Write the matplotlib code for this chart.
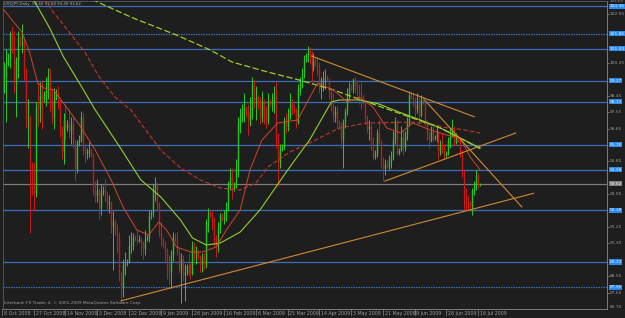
import matplotlib
matplotlib.use("Agg")
import matplotlib.pyplot as plt
import matplotlib.transforms as mtransforms
import numpy as np

# ---------------- data ----------------
opens = [102.5, 99.5, 99.5, 100.2, 100.6, 101.8, 101.6, 99.2, 100.4, 101.6, 101.3, 101.4,
         99.9, 97.2, 97.2, 94.6, 93.4, 93.1, 97.9, 97.8, 98.5, 98.3, 98.6, 98.9,
         99.6, 98.1, 97.3, 98.3, 98.6, 98.2, 96.5, 95.4, 97.2, 96.7, 96.9, 96.5,
         96.9, 95.8, 94.4, 95.9, 96.1, 97.3, 95.5, 95.3, 95.4, 95.5, 95.2, 93.2,
         93.0, 93.3, 92.3, 93.2, 93.3, 93.0, 92.5, 92.6, 91.3, 91.6, 91.0, 90.7,
         88.5, 87.9, 89.2, 89.3, 89.4, 90.2, 90.3, 90.7, 90.6, 90.5, 90.6, 90.3,
         90.1, 90.6, 90.7, 91.9, 92.0, 93.3, 93.6, 92.5, 91.0, 90.6, 90.2, 89.9,
         89.0, 88.8, 89.7, 90.7, 90.6, 89.9, 88.9, 89.5, 88.6, 88.8, 89.1, 89.0,
         88.7, 90.2, 89.8, 89.9, 89.6, 89.2, 89.5, 89.2, 91.5, 92.0, 91.9, 91.5,
         90.5, 90.2, 91.2, 91.9, 91.7, 91.8, 92.3, 93.6, 94.0, 93.4, 93.5, 94.5,
         97.0, 97.4, 97.6, 97.8, 97.4, 97.1, 97.6, 99.1, 98.2, 98.4, 97.9, 97.3,
         98.1, 97.6, 97.1, 98.2, 98.0, 98.1, 98.4, 96.0, 94.8, 95.5, 95.7, 97.1,
         96.8, 97.4, 98.0, 97.8, 97.6, 97.0, 98.9, 99.3, 99.7, 100.4, 100.7, 100.9,
         100.6, 100.0, 100.4, 100.2, 99.9, 98.9, 99.2, 99.4, 99.5, 99.3, 98.7, 97.9,
         97.4, 97.6, 97.0, 96.8, 96.0, 97.0, 97.6, 98.5, 98.9, 98.8, 99.3, 99.0,
         98.7, 98.6, 98.5, 98.1, 97.2, 96.6, 96.8, 95.8, 95.1, 95.3, 96.4, 95.9,
         94.8, 94.5, 94.7, 94.6, 94.9, 95.1, 96.1, 97.0, 95.3, 95.5, 96.2, 95.6,
         96.4, 97.0, 98.5, 98.4, 98.2, 97.7, 98.0, 97.4, 98.3, 98.1, 97.0, 96.3,
         96.0, 96.5, 96.1, 96.2, 96.4, 95.4, 95.7, 95.6, 95.2, 95.3, 96.0, 96.4,
         96.6, 95.9, 96.2, 96.0, 95.3, 94.2, 92.8, 92.6, 92.5, 92.4, 93.2, 93.6,
         94.1, 93.60]
highs = [102.8, 100.3, 101.0, 100.8, 102.0, 102.3, 102.0, 100.6, 102.0, 101.8, 102.4, 101.7,
         100.0, 98.3, 97.4, 94.8, 94.8, 98.1, 99.2, 99.2, 99.3, 98.7, 99.5, 100.0,
         100.0, 98.9, 98.9, 98.8, 99.0, 98.3, 96.8, 97.5, 98.0, 97.1, 97.7, 97.3,
         97.4, 96.0, 96.0, 96.3, 97.6, 97.5, 95.8, 95.6, 95.9, 95.6, 95.3, 93.8,
         93.9, 93.4, 93.6, 93.5, 93.9, 93.2, 93.0, 92.7, 92.1, 91.7, 91.4, 91.0,
         88.8, 89.5, 89.9, 89.5, 90.8, 91.0, 90.9, 90.8, 91.1, 90.8, 90.7, 90.5,
         91.1, 90.8, 92.2, 92.2, 93.6, 94.0, 93.7, 92.6, 91.5, 90.7, 90.5, 90.1,
         89.7, 90.0, 91.0, 90.9, 91.0, 90.1, 89.8, 89.7, 89.2, 89.2, 89.8, 89.3,
         90.5, 90.4, 90.2, 90.0, 89.7, 89.8, 89.8, 91.7, 92.3, 92.2, 92.1, 91.8,
         90.8, 91.5, 92.0, 92.0, 92.2, 92.6, 93.8, 94.5, 94.5, 93.7, 95.0, 97.3,
         97.8, 98.0, 98.6, 97.9, 98.0, 98.4, 99.5, 99.3, 99.0, 98.5, 98.4, 98.7,
         98.3, 97.9, 98.6, 98.3, 98.6, 99.0, 99.2, 96.4, 95.8, 95.8, 97.3, 97.5,
         97.8, 98.6, 98.3, 98.0, 97.8, 99.1, 99.5, 100.0, 100.7, 100.8, 101.2, 101.1,
         100.9, 100.8, 100.5, 100.6, 100.3, 99.5, 99.8, 99.9, 99.6, 99.4, 98.9, 98.6,
         97.9, 97.9, 97.1, 97.0, 97.2, 97.8, 98.9, 99.2, 99.1, 99.4, 99.5, 99.3,
         99.1, 99.2, 98.5, 98.2, 97.4, 97.1, 96.9, 96.2, 95.5, 96.6, 97.1, 96.0,
         95.1, 95.0, 94.9, 95.2, 95.4, 96.5, 97.3, 97.1, 95.6, 96.8, 96.5, 96.5,
         97.3, 98.7, 98.7, 98.6, 98.4, 98.6, 98.4, 98.5, 98.4, 98.2, 97.1, 96.5,
         96.8, 96.8, 96.3, 96.8, 96.5, 96.0, 96.4, 95.8, 95.4, 96.2, 96.7, 97.2,
         96.8, 96.4, 96.3, 96.1, 95.5, 94.4, 93.4, 93.0, 92.7, 93.4, 93.8, 94.4,
         94.2, 93.68]
lows = [98.4, 98.6, 97.0, 100.1, 100.0, 100.8, 98.6, 97.3, 99.4, 101.2, 100.8, 99.3,
        96.7, 95.6, 90.9, 93.0, 92.1, 92.9, 96.8, 97.0, 96.6, 98.1, 97.9, 98.3,
        97.6, 96.9, 96.6, 98.2, 97.7, 96.2, 95.0, 94.7, 96.0, 96.5, 96.2, 95.8,
        95.6, 93.8, 94.2, 95.7, 95.9, 95.2, 94.8, 95.0, 95.1, 95.1, 93.0, 92.6,
        92.6, 91.7, 91.9, 93.0, 92.6, 92.1, 92.0, 90.9, 88.9, 90.8, 89.8, 88.3,
        87.1, 87.4, 88.6, 89.1, 89.3, 89.8, 90.0, 90.5, 90.3, 90.4, 89.7, 89.5,
        89.7, 90.5, 90.4, 91.7, 91.8, 92.7, 92.2, 90.7, 90.2, 90.1, 89.4, 88.4,
        88.1, 87.9, 89.4, 90.4, 89.7, 88.7, 87.1, 88.3, 87.2, 88.6, 88.6, 88.4,
        88.6, 89.4, 89.2, 89.5, 88.8, 88.8, 88.9, 89.0, 91.0, 91.8, 91.1, 90.2,
        89.6, 89.9, 90.9, 91.6, 91.4, 91.6, 92.1, 93.3, 92.8, 93.2, 93.4, 94.0,
        96.4, 97.0, 97.0, 97.3, 96.3, 96.8, 97.2, 97.8, 97.1, 97.7, 96.9, 97.0,
        96.9, 96.7, 96.9, 97.9, 97.6, 97.5, 95.6, 93.5, 94.5, 95.4, 95.5, 96.4,
        96.5, 97.2, 97.4, 97.5, 96.7, 96.9, 98.5, 98.9, 99.4, 100.3, 100.3, 100.2,
        99.2, 99.8, 100.1, 99.6, 98.6, 98.3, 98.7, 98.8, 99.2, 98.3, 97.6, 97.0,
        97.0, 96.6, 96.6, 95.6, 94.5, 96.7, 97.4, 98.3, 98.7, 98.6, 98.6, 98.2,
        98.0, 97.7, 98.0, 96.9, 96.4, 96.0, 95.5, 94.9, 95.0, 95.1, 95.8, 94.5,
        93.8, 94.1, 94.5, 94.4, 94.5, 94.9, 95.8, 95.2, 95.2, 95.4, 95.2, 95.4,
        96.0, 96.8, 98.3, 97.9, 97.3, 97.5, 96.9, 97.3, 98.0, 96.8, 96.0, 95.6,
        95.9, 95.9, 96.0, 95.9, 95.0, 95.2, 95.3, 95.0, 95.1, 95.2, 95.6, 96.2,
        95.7, 95.8, 95.9, 95.1, 94.0, 92.2, 92.2, 92.1, 92.3, 91.9, 93.0, 93.3,
        93.4, 93.49]
closes = [99.5, 99.5, 100.2, 100.6, 101.8, 101.6, 99.2, 100.4, 101.6, 101.3, 101.4, 99.9,
          97.2, 97.2, 94.6, 93.4, 93.1, 97.9, 97.8, 98.5, 98.3, 98.6, 98.9, 99.6,
          98.1, 97.3, 98.3, 98.6, 98.2, 96.5, 95.4, 97.2, 96.7, 96.9, 96.5, 96.9,
          95.8, 94.4, 95.9, 96.1, 97.3, 95.5, 95.3, 95.4, 95.5, 95.2, 93.2, 93.0,
          93.3, 92.3, 93.2, 93.3, 93.0, 92.5, 92.6, 91.3, 91.6, 91.0, 90.7, 88.5,
          87.9, 89.2, 89.3, 89.4, 90.2, 90.3, 90.7, 90.6, 90.5, 90.6, 90.3, 90.1,
          90.6, 90.7, 91.9, 92.0, 93.3, 93.6, 92.5, 91.0, 90.6, 90.2, 89.9, 89.0,
          88.8, 89.7, 90.7, 90.6, 89.9, 88.9, 89.5, 88.6, 88.8, 89.1, 89.0, 88.7,
          90.2, 89.8, 89.9, 89.6, 89.2, 89.5, 89.2, 91.5, 92.0, 91.9, 91.5, 90.5,
          90.2, 91.2, 91.9, 91.7, 91.8, 92.3, 93.6, 94.0, 93.4, 93.5, 94.5, 97.0,
          97.4, 97.6, 97.8, 97.4, 97.1, 97.6, 99.1, 98.2, 98.4, 97.9, 97.3, 98.1,
          97.6, 97.1, 98.2, 98.0, 98.1, 98.4, 96.0, 94.8, 95.5, 95.7, 97.1, 96.8,
          97.4, 98.0, 97.8, 97.6, 97.0, 98.9, 99.3, 99.7, 100.4, 100.7, 100.9, 100.6,
          100.0, 100.4, 100.2, 99.9, 98.9, 99.2, 99.4, 99.5, 99.3, 98.7, 97.9, 97.4,
          97.6, 97.0, 96.8, 96.0, 97.0, 97.6, 98.5, 98.9, 98.8, 99.3, 99.0, 98.7,
          98.6, 98.5, 98.1, 97.2, 96.6, 96.8, 95.8, 95.1, 95.3, 96.4, 95.9, 94.8,
          94.5, 94.7, 94.6, 94.9, 95.1, 96.1, 97.0, 95.3, 95.5, 96.2, 95.6, 96.4,
          97.0, 98.5, 98.4, 98.2, 97.7, 98.0, 97.4, 98.3, 98.1, 97.0, 96.3, 96.0,
          96.5, 96.1, 96.2, 96.4, 95.4, 95.7, 95.6, 95.2, 95.3, 96.0, 96.4, 96.6,
          95.9, 96.2, 96.0, 95.3, 94.2, 92.8, 92.6, 92.5, 92.4, 93.2, 93.6, 94.1,
          93.60, 93.62]

# moving averages at sample bars
ma_fast_bars = [1, 5, 10, 14, 18, 21, 26, 31, 39, 47, 55, 61, 68, 74, 79, 83, 88, 95, 101, 108,
                113, 120, 125, 131, 139, 149, 159, 167, 174, 180, 187, 194, 201, 207, 216, 224,
                231, 236, 241]
ma_fast_vals = [103.16, 102.61, 101.95, 100.80, 99.15, 98.88, 98.77, 98.05, 96.85, 95.47, 93.83,
                92.35, 91.08, 90.81, 91.52, 91.08, 90.15, 89.88, 89.88, 90.15, 91.08, 92.18,
                94.38, 96.02, 96.96, 97.12, 99.15, 98.77, 98.11, 98.38, 97.83, 96.68, 96.41,
                96.96, 96.57, 96.30, 96.13, 95.09, 94.38]
ma_mid_bars = [12, 16, 24, 31, 39, 47, 59, 70, 80, 90, 96, 103, 110, 120, 130, 144, 155, 166,
               170, 180, 190, 200, 211, 221, 231, 241]
ma_mid_vals = [104.6, 103.7, 102.17, 100.58, 99.15, 97.67, 95.7, 93.83, 92.90, 91.63, 90.65,
               90.26, 90.37, 90.97, 92.18, 94.38, 96.02, 98.11, 98.22, 98.22, 98.0, 97.56,
               97.12, 96.68, 96.13, 95.58]
ma_slow_bars = [20, 25, 33, 42, 49, 57, 65, 80, 90, 100, 110, 120, 128, 134, 145, 155, 170,
                184, 192, 200, 207, 216, 224, 232, 241]
ma_slow_vals = [104.0, 103.16, 102.06, 100.80, 99.48, 98.38, 97.67, 95.47, 94.49, 93.83, 93.39,
                93.28, 93.66, 94.54, 95.36, 95.86, 96.68, 96.96, 96.96, 97.0, 97.0, 96.9, 96.7,
                96.6, 96.4]
ma_long_bars = [44, 48, 66, 88, 105, 116, 134, 150, 167, 184, 200, 221, 241]
ma_long_vals = [103.85, 103.6, 102.72, 101.78, 100.96, 100.30, 99.75, 99.31, 98.77, 98.11,
                97.50, 96.68, 95.55]

# hand-drawn trend lines: (bar0, price0, bar1, price1)
trend_lines = [(60, 87.2, 268, 93.1),
               (156, 100.63, 238, 97.3),
               (213, 98.22, 262, 92.35),
               (193, 93.77, 259, 96.41)]

# horizontal levels
level_prices = [103.36, 101.86, 101.03, 99.27, 98.12, 95.76, 94.38, 92.18, 89.33, 87.95]
level_dotted = [False, True, False, False, False, False, False, False, False, True]
current_price = 93.62

price_top, price_bottom = 103.65, 86.75
price_ticks = [102.95, 100.25, 98.45, 97.55, 96.65, 94.85, 93.05, 91.25, 90.35, 88.55, 87.65]

date_labels = ["8 Oct 2008", "27 Oct 2008", "14 Nov 2008", "3 Dec 2008", "22 Dec 2008",
               "9 Jan 2009", "28 Jan 2009", "16 Feb 2009", "6 Mar 2009", "25 Mar 2009",
               "14 Apr 2009", "3 May 2009", "21 May 2009", "9 Jun 2009", "28 Jun 2009",
               "16 Jul 2009"]
date_label_bars = [0, 16, 32, 48, 64, 80, 96, 112, 128, 144, 160, 176, 192, 208, 224, 240]

title_text = "USDJPY,Daily  93.60 93.68 93.49 93.62"
copyright_text = "Interbank FX Trader 4, \u00a9 2001-2009 MetaQuotes Software Corp."

# ---------------- style ----------------
BG = "#1e1e1e"
GREEN = "#22c722"
RED = "#c81818"
BLUE = "#3a70b8"
LABEL_BLUE = "#2b8cf0"
ORANGE = "#d08a30"
TXT = "#9a9a9a"

W, H = 625, 318
fig = plt.figure(figsize=(W / 100, H / 100), dpi=100)
fig.patch.set_facecolor(BG)
ax = fig.add_axes([3 / W, 9 / H, 604 / W, 308 / H])
ax.set_facecolor(BG)
px_per_bar = 1.984
ax.set_xlim(0.5, 0.5 + 604 / px_per_bar)
ax.set_ylim(price_bottom, price_top)
ax.set_xticks([])
ax.set_yticks([])
for s in ["left", "top"]:
    ax.spines[s].set_color("#5a5a5a")
    ax.spines[s].set_linewidth(0.6)
for s in ["right", "bottom"]:
    ax.spines[s].set_color("#8a8a8a")
    ax.spines[s].set_linewidth(0.6)
    ax.spines[s].set_linestyle((0, (1, 1)))

# horizontal levels
for p, dotted in zip(level_prices, level_dotted):
    ax.axhline(p, color=BLUE, lw=0.9, ls=(0, (1.2, 0.8)) if dotted else "-", zorder=1)
ax.axhline(current_price, color="#7d7d7d", lw=0.9, zorder=1)

# moving averages
ax.plot(ma_long_bars, ma_long_vals, color="#9ccc2a", lw=0.9, ls=(0, (5, 2)), zorder=4)
ax.plot(ma_slow_bars, ma_slow_vals, color="#c0392b", lw=0.8, ls=(0, (4, 2)), zorder=4)
ax.plot(ma_mid_bars, ma_mid_vals, color="#8fd02a", lw=0.8, zorder=4)
ax.plot(ma_fast_bars, ma_fast_vals, color="#d0452a", lw=0.7, zorder=4)

# candles
o = np.array(opens); h = np.array(highs); l = np.array(lows); c = np.array(closes)
idx = np.arange(len(c))
up = c >= o
cols = np.where(up, GREEN, RED)
ax.vlines(idx, l, h, colors=cols, lw=0.72, zorder=3)
ax.vlines(idx, np.minimum(o, c), np.maximum(o, c), colors=cols, lw=1.0, zorder=3)

# trend lines
for b0, p0, b1, p1 in trend_lines:
    ax.plot([b0, b1], [p0, p1], color=ORANGE, lw=0.8, zorder=5)

# price axis labels
bt = mtransforms.blended_transform_factory(ax.transAxes, ax.transData)
for p in price_ticks:
    ax.text(1.004, p, f"{p:.2f}", transform=bt, fontsize=3.2, color=TXT,
            va="center", ha="left", clip_on=False, zorder=6)
    ax.plot([1.0, 1.003], [p, p], transform=bt, color="#8a8a8a", lw=0.5, clip_on=False)
ax.text(1.004, 1.0, f"{price_top:.2f}", transform=ax.transAxes, fontsize=3.0, color=TXT,
        va="center", ha="left", clip_on=False)
ax.text(1.004, price_bottom, f"{price_bottom:.2f}", transform=bt, fontsize=3.2, color=TXT,
        va="bottom", ha="left", clip_on=False)
for p in level_prices:
    ax.text(1.004, p, f"{p:.2f}", transform=bt, fontsize=3.2, color="#dfe8f5",
            va="center", ha="left", clip_on=False, zorder=10,
            bbox=dict(boxstyle="square,pad=0.12", fc=LABEL_BLUE, ec="none"))
ax.text(1.004, current_price, f"{current_price:.2f}", transform=bt, fontsize=3.2,
        color="#e8e8e8", va="center", ha="left", clip_on=False, zorder=10,
        bbox=dict(boxstyle="square,pad=0.12", fc="#808080", ec="none"))

# date labels
dt = mtransforms.blended_transform_factory(ax.transData, ax.transAxes)
for b, lab in zip(date_label_bars, date_labels):
    ax.text(b + 0.9, -0.006, lab, transform=dt, fontsize=3.4, color=TXT,
            va="top", ha="left", clip_on=False)
    ax.plot([b, b], [0, -0.018], transform=dt, color="#8a8a8a", lw=0.5, clip_on=False)

ax.text(0.002, 0.996, title_text, transform=ax.transAxes, fontsize=2.9, color="#b5b5b5",
        va="top", ha="left", zorder=7)
ax.text(0.002, 0.027, copyright_text, transform=ax.transAxes, fontsize=3.1, color="#a0a0a0",
        va="top", ha="left", zorder=7)

fig.savefig("out.png", dpi=100, facecolor=BG)
